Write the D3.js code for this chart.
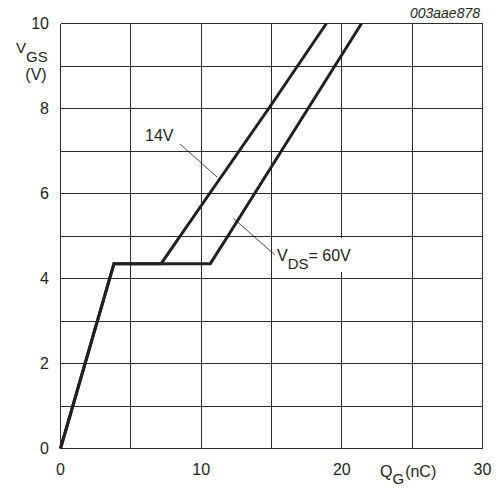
<!DOCTYPE html>
<html lang="en">
<head>
<meta charset="UTF-8">
<title>Gate charge</title>
<script src="https://cdn.jsdelivr.net/npm/d3@7"></script>
<style>
  body { margin: 0; background: #fff; }
  svg { font-family: "Liberation Sans", Arial, sans-serif; }
</style>
</head>
<body>
<script>
// data: gate charge QG (nC) vs gate-source voltage VGS (V)
const xTicks = [0, 10, 20, 30]
const yTicks = [0, 2, 4, 6, 8, 10]
const xGrid = [0, 5, 10, 15, 20, 25, 30]
const yGrid = [0, 1, 2, 3, 4, 5, 6, 7, 8, 9, 10]

const commonQ = [0, 3.8]
const commonV = [0, 4.35]
const q14 = [7.15, 10.6, 14.8, 18.9]
const v14 = [4.35, 6, 8, 10]
const q60 = [10.65, 11.9, 13.8, 17.6, 21.4]
const v60 = [4.35, 5, 6, 8, 10]

const width = 499, height = 491
const svg = d3.select('body').append('svg')
  .attr('width', width)
  .attr('height', height)

const x = d3.scaleLinear().domain([0, 30]).range([60.5, 482.5])
const y = d3.scaleLinear().domain([0, 10]).range([448.5, 23.5])

// grid
const grid = svg.append('g')
  .attr('stroke', '#2b2b2b')
  .attr('stroke-width', 1)
  .attr('shape-rendering', 'crispEdges')

grid.selectAll('.vx')
  .data(xGrid)
  .enter().append('line')
  .attr('x1', d => x(d)).attr('x2', d => x(d))
  .attr('y1', y(0)).attr('y2', y(10))

grid.selectAll('.hy')
  .data(yGrid)
  .enter().append('line')
  .attr('x1', x(0)).attr('x2', x(30))
  .attr('y1', d => y(d)).attr('y2', d => y(d))

// tick labels
svg.append('g').selectAll('text')
  .data(yTicks)
  .enter().append('text')
  .attr('x', 49)
  .attr('y', d => y(d) + 5.5)
  .attr('text-anchor', 'end')
  .attr('font-size', 16)
  .attr('fill', '#231f20')
  .text(d => d)

svg.append('g').selectAll('text')
  .data(xTicks)
  .enter().append('text')
  .attr('x', d => x(d))
  .attr('y', 475)
  .attr('text-anchor', 'middle')
  .attr('font-size', 16)
  .attr('fill', '#231f20')
  .text(d => d)

// axis titles
const yTitle = svg.append('text')
  .attr('x', 16)
  .attr('y', 53)
  .attr('font-size', 15)
  .attr('fill', '#231f20')
yTitle.append('tspan').text('V')
yTitle.append('tspan').attr('dy', 9).attr('font-size', 15).text('GS')

svg.append('text')
  .attr('x', 36)
  .attr('y', 80)
  .attr('text-anchor', 'middle')
  .attr('font-size', 16)
  .attr('fill', '#231f20')
  .text('(V)')

const xTitle = svg.append('text')
  .attr('x', 380)
  .attr('y', 477)
  .attr('font-size', 16)
  .attr('fill', '#231f20')
xTitle.append('tspan').text('Q')
xTitle.append('tspan').attr('dy', 7).attr('font-size', 15).text('G')
xTitle.append('tspan').attr('dy', -7).attr('dx', 1).text('(nC)')

svg.append('text')
  .attr('x', 480)
  .attr('y', 18)
  .attr('text-anchor', 'end')
  .attr('font-size', 14)
  .attr('font-style', 'italic')
  .attr('fill', '#231f20')
  .text('003aae878')

// curves
const line = d3.line().x(d => x(d[0])).y(d => y(d[1]))
const base = d3.zip(commonQ, commonV)
const curves = [
  base.concat(d3.zip(q14, v14)),
  base.concat(d3.zip(q60, v60))
]

svg.append('g').selectAll('path')
  .data(curves)
  .enter().append('path')
  .attr('d', line)
  .attr('fill', 'none')
  .attr('stroke', '#231f20')
  .attr('stroke-width', 3)
  .attr('stroke-linejoin', 'miter')

// labels with leaders
svg.append('line')
  .attr('x1', 180).attr('y1', 144)
  .attr('x2', 217).attr('y2', 177)
  .attr('stroke', '#231f20').attr('stroke-width', 0.8)

svg.append('text')
  .attr('x', 145)
  .attr('y', 141)
  .attr('font-size', 16)
  .attr('fill', '#231f20')
  .text('14V')

svg.append('rect')
  .attr('x', 275).attr('y', 238)
  .attr('width', 90).attr('height', 34)
  .attr('fill', '#fff')

svg.append('line')
  .attr('x1', 233).attr('y1', 218)
  .attr('x2', 275).attr('y2', 255)
  .attr('stroke', '#231f20').attr('stroke-width', 0.8)

const vds = svg.append('text')
  .attr('x', 277)
  .attr('y', 261)
  .attr('font-size', 16)
  .attr('fill', '#231f20')
vds.append('tspan').text('V')
vds.append('tspan').attr('dy', 8).attr('font-size', 15).text('DS')
vds.append('tspan').attr('dy', -8).text('= 60V')
</script>
</body>
</html>
